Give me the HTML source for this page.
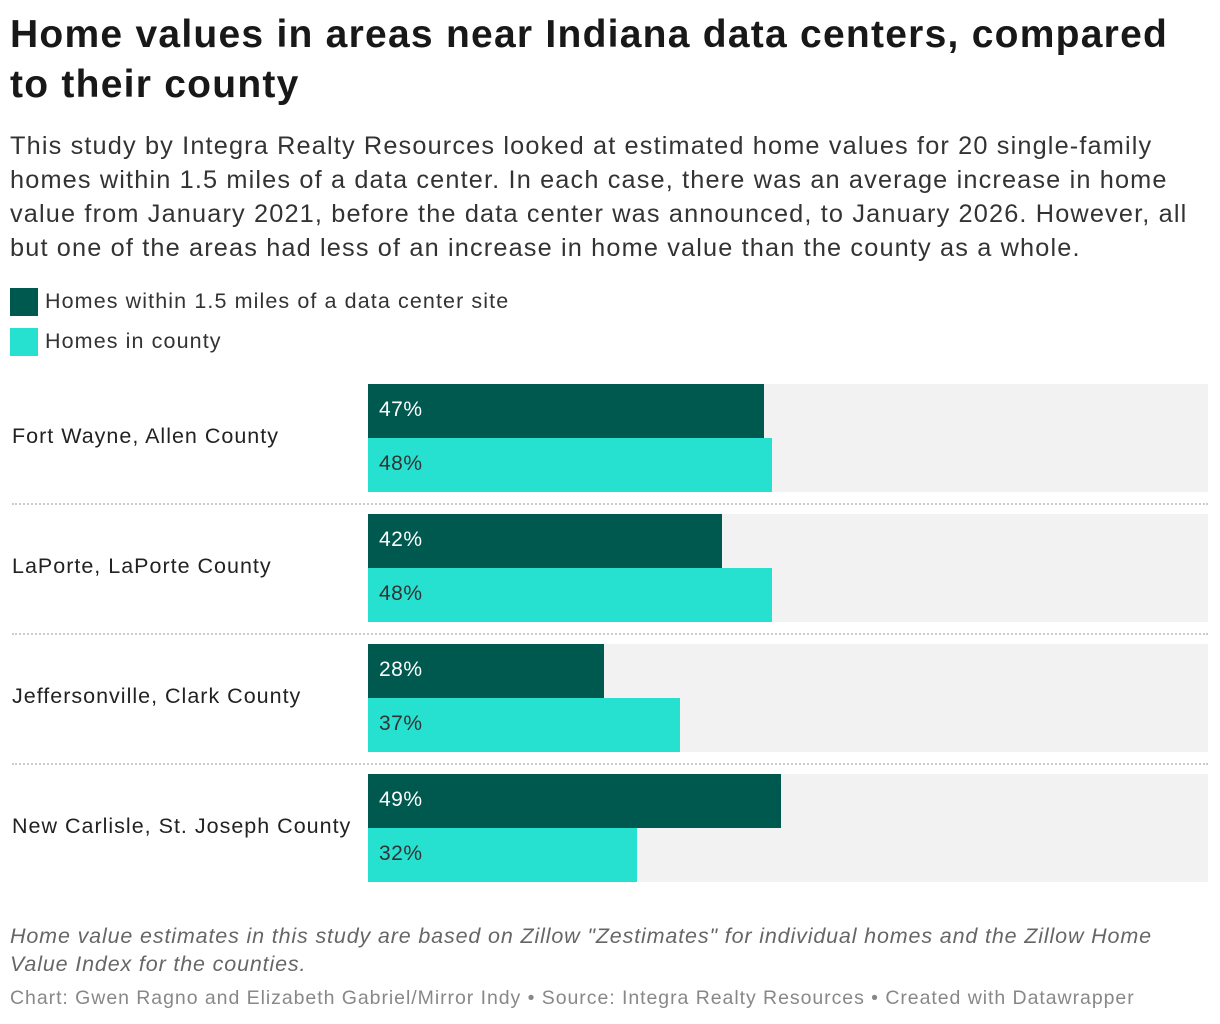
<!DOCTYPE html>
<html><head><meta charset="utf-8">
<style>
body{margin:0;width:1220px;height:1024px;background:#fff;font-family:"Liberation Sans",Arial,sans-serif;color:#222;position:relative;overflow:hidden}
.abs{position:absolute;white-space:nowrap}
#title{left:10px;top:10px;font-size:39px;font-weight:bold;line-height:50px;color:#181818;letter-spacing:1.25px}
#desc{left:10px;top:129px;font-size:25.3px;line-height:34px;color:#333;letter-spacing:1.15px}
.sw{position:absolute;width:28px;height:28px}
.lt{font-size:21.5px;color:#333;letter-spacing:1.1px}
#note{left:10px;top:922px;font-size:21.5px;font-style:italic;color:#666;line-height:28px;letter-spacing:0.85px}
#credit{left:10px;top:987px;font-size:19.5px;color:#888;letter-spacing:0.95px}
</style></head><body>
<div class="abs" id="title">Home values in areas near Indiana data centers, compared<br>to their county</div>
<div class="abs" id="desc">This study by Integra Realty Resources looked at estimated home values for 20 single-family<br>homes within 1.5 miles of a data center. In each case, there was an average increase in home<br>value from January 2021, before the data center was announced, to January 2026. However, all<br>but one of the areas had less of an increase in home value than the county as a whole.</div>
<div class="sw" style="left:10px;top:288px;background:#00594f"></div>
<div class="abs lt" style="left:45px;top:289px">Homes within 1.5 miles of a data center site</div>
<div class="sw" style="left:10px;top:328px;background:#26e0d0"></div>
<div class="abs lt" style="left:45px;top:329px">Homes in county</div>
<div id="chart"></div>
<div class="abs" id="note">Home value estimates in this study are based on Zillow "Zestimates" for individual homes and the Zillow Home<br>Value Index for the counties.</div>
<div class="abs" id="credit">Chart: Gwen Ragno and Elizabeth Gabriel/Mirror Indy • Source: Integra Realty Resources • Created with Datawrapper</div>
<script>
const categories=["Fort Wayne, Allen County","LaPorte, LaPorte County","Jeffersonville, Clark County","New Carlisle, St. Joseph County"];
const nearValues=[47,42,28,49];
const countyValues=[48,48,37,32];
const X0=368, PX=8.42, BGW=840, TOP=384, STEP=130, BH=54;
function xs(v){return v*PX;}
const chart=document.getElementById('chart');
function div(css){const d=document.createElement('div');d.className='abs';d.style.cssText=css;chart.appendChild(d);return d;}
categories.forEach((c,i)=>{
  const y=TOP+i*STEP;
  const bg=div(`left:${X0}px;top:${y}px;width:${BGW}px;height:${BH*2}px;background:#f2f2f2`);
  
  
  const lab=div(`left:12px;top:${y+40}px;font-size:21.5px;color:#222;letter-spacing:1px`);
  lab.textContent=c;
  
  
  [[nearValues[i],'#00594f','#fff','bar-near'],[countyValues[i],'#26e0d0','#333','bar-county']].forEach((s,j)=>{
    const b=div(`left:${X0}px;top:${y+j*BH}px;width:${xs(s[0])}px;height:${BH}px;background:${s[1]}`);
    
    
    const t=div(`left:${X0+11}px;top:${y+j*BH+14}px;font-size:21px;color:${s[2]};letter-spacing:0.5px`);
    t.textContent=s[0]+'%';
    
    
  });
  if(i<categories.length-1){
    const sep=div(`left:12px;top:${y+BH*2+11}px;width:1196px;height:0;border-top:2px dotted #ccc`);
    
    
  }
});
</script>
</body></html>
